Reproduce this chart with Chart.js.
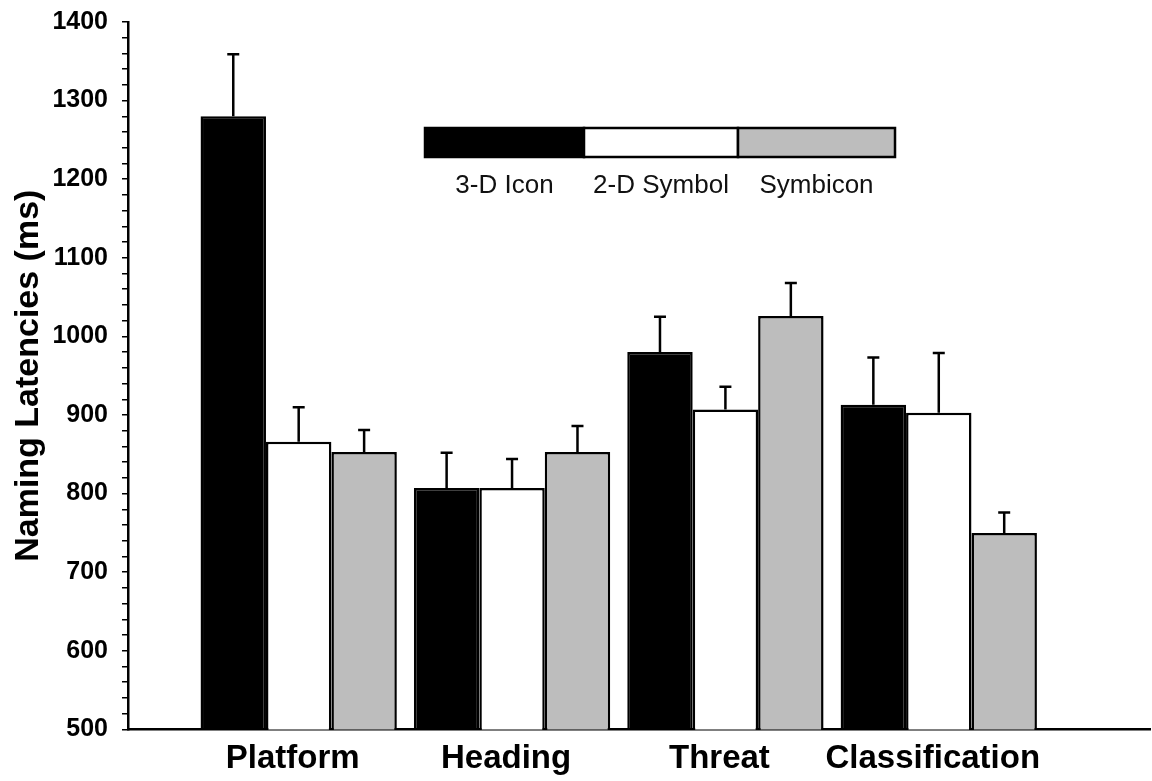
<!DOCTYPE html>
<html>
<head>
<meta charset="utf-8">
<script src="https://cdn.jsdelivr.net/npm/chart.js@4.4.1/dist/chart.umd.min.js"></script>
<style>
    html, body { margin: 0; padding: 0; background: #fff; }
    #wrap { width: 1152px; height: 781px; }
</style>
</head>
<body>
<div id="wrap"><canvas id="grafico"></canvas></div>
<script>
/* ================================
      DADOS
================================ */
const categorias = ["Platform", "Heading", "Threat", "Classification"];
const series = ["3-D Icon", "2-D Symbol", "Symbicon"];

const icon3D = [1280, 807, 980, 913];
const symbol2D = [866, 807, 907, 903];
const symbicon = [853, 853, 1026, 750];

// tamanho das barras de erro (só para cima)
const erro3D = [79, 45, 45, 60];
const erro2D = [44, 37, 29, 76];
const erroSym = [28, 33, 42, 26];

const cores = ["#000000", "#ffffff", "#bdbdbd"];

/* ================================
      PLUGIN — BARRAS DE ERRO
================================ */
const erros = [erro3D, erro2D, erroSym];

const errorBars = {
    id: "errorBars",
    afterDatasetsDraw(chart) {
        const ctx = chart.ctx;
        const y = chart.scales.y;
        ctx.save();
        ctx.strokeStyle = "#000";
        ctx.lineWidth = 2.5;
        chart.data.datasets.forEach((ds, d) => {
            const meta = chart.getDatasetMeta(d);
            meta.data.forEach((bar, i) => {
                const topo = y.getPixelForValue(ds.data[i].y + erros[d][i]);
                ctx.beginPath();
                ctx.moveTo(bar.x, bar.y);
                ctx.lineTo(bar.x, topo);
                ctx.moveTo(bar.x - 6, topo);
                ctx.lineTo(bar.x + 6, topo);
                ctx.stroke();
            });
        });
        ctx.restore();
    }
};

/* ================================
      PLUGIN — LEGENDA EM FAIXA
================================ */
const legendaFaixa = {
    id: "legendaFaixa",
    afterDraw(chart) {
        const ctx = chart.ctx;
        const x0 = 425, topo = 128, alt = 29;
        const larg = [159, 154, 157];
        let x = x0;
        ctx.save();
        ctx.font = "26px 'Liberation Sans', Arial, sans-serif";
        ctx.textAlign = "center";
        ctx.textBaseline = "middle";
        chart.data.datasets.forEach((ds, d) => {
            ctx.fillStyle = ds.backgroundColor;
            ctx.fillRect(x, topo, larg[d], alt);
            ctx.strokeStyle = "#000";
            ctx.lineWidth = 2.5;
            ctx.strokeRect(x, topo, larg[d], alt);
            ctx.fillStyle = "#111";
            ctx.fillText(ds.label, x + larg[d] / 2, 186);
            x += larg[d];
        });
        ctx.restore();
    }
};

/* ================================
      GRÁFICO
================================ */
const valores = [icon3D, symbol2D, symbicon];

new Chart(document.getElementById("grafico"), {
    type: "bar",
    data: {
        datasets: series.map((nome, d) => ({
            label: nome,
            data: categorias.map((c, i) => ({ x: i, y: valores[d][i] })),
            backgroundColor: cores[d],
            borderColor: "#000",
            borderWidth: 2.5,
            borderSkipped: "bottom",
            categoryPercentage: 0.92,
            barPercentage: 1.0
        }))
    },
    options: {
        responsive: true,
        maintainAspectRatio: false,
        animation: false,
        layout: { padding: { top: 22, right: 2, bottom: 0, left: 8 } },
        plugins: {
            legend: { display: false },
            tooltip: { enabled: false }
        },
        scales: {
            x: {
                type: "linear",
                offset: false,
                min: -0.8,
                max: 3.99,
                afterBuildTicks: s => { s.ticks = categorias.map((c, i) => ({ value: i })); },
                grid: { display: false },
                border: { color: "#000", width: 2.5 },
                ticks: {
                    autoSkip: false,
                    maxRotation: 0,
                    padding: 2,
                    labelOffset: -6,
                    color: "#000",
                    font: { family: "'Liberation Sans', Arial, sans-serif", size: 33, weight: "bold" },
                    callback: v => categorias[v]
                }
            },
            y: {
                min: 500,
                max: 1400,
                afterFit: s => { s.width = 120; s.paddingTop = 0; s.paddingBottom = 0; },
                grid: { drawOnChartArea: false, color: "#000", tickLength: 6, lineWidth: 1.5 },
                border: { color: "#000", width: 2.5 },
                ticks: {
                    stepSize: 20,
                    autoSkip: false,
                    padding: 14,
                    color: "#000",
                    font: { family: "'Liberation Sans', Arial, sans-serif", size: 25, weight: "bold" },
                    callback: v => (v % 100 === 0 ? v : "")
                },
                title: {
                    display: true,
                    text: "Naming Latencies (ms)",
                    color: "#000",
                    padding: { top: 0, bottom: 2 },
                    font: { family: "'Liberation Sans', Arial, sans-serif", size: 34, weight: "bold" }
                }
            }
        }
    },
    plugins: [errorBars, legendaFaixa]
});
</script>
</body>
</html>
